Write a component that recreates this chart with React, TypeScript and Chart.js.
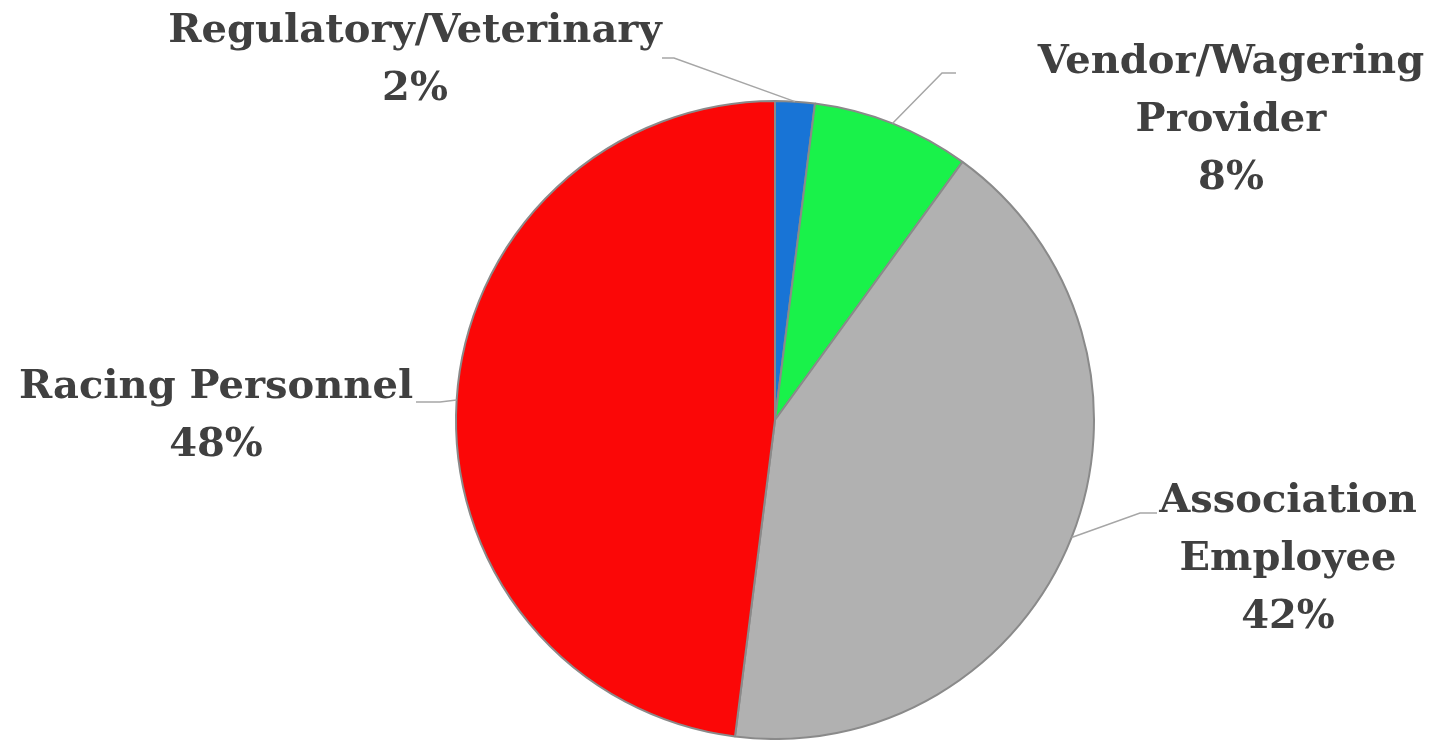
import React, { useEffect, useRef } from "react";
import { Chart, registerables } from "chart.js";

Chart.register(...registerables);

const categories = ["Regulatory/Veterinary", "Vendor/Wagering Provider", "Association Employee", "Racing Personnel"];
const values = [2, 8, 42, 48];
const colors = ["#1874d6", "#19f24a", "#b1b1b1", "#fb0707"];

// label line texts and placement (centre x, first line centre y, elbow point)
const labelLines = [
  ["Regulatory/Veterinary", "2%"],
  ["Vendor/Wagering", "Provider", "8%"],
  ["Association", "Employee", "42%"],
  ["Racing Personnel", "48%"],
];
const labelPos = [
  { x: 415, y: 32, ex: 662, ey: 58, ex2: 674 },
  { x: 1231, y: 63, ex: 956, ey: 73, ex2: 942 },
  { x: 1288, y: 502, ex: 1157, ey: 513, ex2: 1140 },
  { x: 216, y: 388, ex: 416, ey: 402, ex2: 440 },
];
const LINE_H = 58;

const labelPlugin = {
  id: "outsideLabels",
  afterDraw(chart: any) {
    const ctx = chart.ctx;
    const meta = chart.getDatasetMeta(0);
    ctx.save();
    meta.data.forEach((arc: any, i: number) => {
      const { x, y, startAngle, endAngle, outerRadius } = arc.getProps(["x", "y", "startAngle", "endAngle", "outerRadius"], true);
      const mid = (startAngle + endAngle) / 2;
      const px = x + Math.cos(mid) * outerRadius;
      const py = y + Math.sin(mid) * outerRadius;
      const p = labelPos[i];
      ctx.strokeStyle = "#a6a6a6";
      ctx.lineWidth = 1.5;
      ctx.beginPath();
      ctx.moveTo(p.ex, p.ey);
      ctx.lineTo(p.ex2, p.ey);
      ctx.lineTo(px, py);
      ctx.stroke();
      ctx.fillStyle = "#404040";
      ctx.font = "bold 40px 'DejaVu Serif'";
      ctx.textAlign = "center";
      ctx.textBaseline = "middle";
      labelLines[i].forEach((t, j) => ctx.fillText(t, p.x, p.y + j * LINE_H));
    });
    ctx.restore();
  },
};

export default function App() {
  const ref = useRef<HTMLCanvasElement>(null);
  useEffect(() => {
    document.body.style.margin = "0";
    const chart = new Chart(ref.current!, {
      type: "pie",
      data: {
        labels: categories,
        datasets: [
          {
            data: values,
            backgroundColor: colors,
            borderColor: "#8a8a8a",
            borderWidth: 2,
          },
        ],
      },
      options: {
        responsive: false,
        animation: false,
        layout: { padding: { left: 455, right: 345, top: 100, bottom: 0 } },
        plugins: { legend: { display: false }, tooltip: { enabled: false } },
      },
      plugins: [labelPlugin],
    });
    return () => chart.destroy();
  }, []);
  return <canvas ref={ref} width={1440} height={740} style={{ display: "block" }} />;
}
